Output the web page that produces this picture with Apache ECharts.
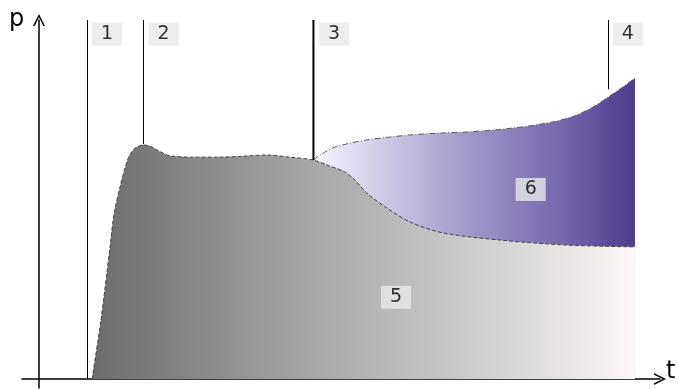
<!DOCTYPE html>
<html>
<head>
<meta charset="utf-8">
<script src="https://cdn.jsdelivr.net/npm/echarts@6/dist/echarts.min.js"></script>
<style>
  html, body { margin: 0; padding: 0; background: #fff; }
  #chart { width: 678px; height: 390px; }
</style>
</head>
<body>
<div id="chart"></div>
<script>
// phase boundary curve (region 5, top edge)
var baseT = [8.9, 10.4, 11.9, 12.6, 13.6, 14.4, 15.1, 16.1, 16.9, 17.4, 18.6, 19.8, 21.5, 22.3, 25.3, 29.9, 34.6, 38.3, 42.1, 46.0, 48.8, 51.3, 53.0, 55.0, 58.4, 62.3, 67.8, 77.4, 88.6, 100];
var baseP = [0, 16.4, 36.5, 46.0, 53.5, 58.5, 62.0, 64.3, 65.0, 65.2, 64.9, 63.8, 62.4, 62.1, 61.8, 61.8, 62.1, 62.4, 61.8, 61.0, 59.3, 57.7, 55.4, 51.8, 47.6, 43.7, 40.7, 38.7, 37.3, 36.8];
// upper curve (region 6, top edge)
var upperT = [46.0, 47.5, 49.3, 52.2, 55.0, 58.9, 62.3, 67.3, 71.8, 79.5, 86.2, 89.9, 93.0, 95.3, 97.5, 100];
var upperP = [61.0, 62.7, 64.4, 65.7, 66.6, 67.4, 68.0, 68.5, 68.8, 69.9, 71.6, 73.3, 75.8, 78.3, 80.8, 83.8];
// vertical markers 1..4
var markT = [8.14, 17.53, 46.05, 95.56];
var markP = [0, 65.4, 61.0, 80.7];
var markW = [1, 1, 2, 1];
// boxed labels
var boxText = ['1', '2', '3', '4', '5', '6'];
var boxT = [11.4, 20.9, 49.5, 98.8, 59.9, 82.5];
var boxP = [96.1, 96.1, 96.1, 96.1, 22.8, 52.8];

var zip = function (a, b) {
    var out = [];
    for (var i = 0; i < a.length; i++) out.push([a[i], b[i]]);
    return out;
};

var series = [];
// region 6 first, region 5 drawn above it hides the lower part
series.push({
    type: 'line',
    data: zip(upperT, upperP),
    smooth: 0.3,
    symbol: 'none',
    z: 2,
    lineStyle: { color: '#5a5a62', width: 1, type: [6, 2, 1, 2] },
    areaStyle: {
        opacity: 1,
        color: new echarts.graphic.LinearGradient(0, 0, 1, 0, [
            { offset: 0, color: '#f7f6fc' },
            { offset: 0.2, color: '#d2cce8' },
            { offset: 0.5, color: '#9f95c7' },
            { offset: 0.78, color: '#7565ab' },
            { offset: 1, color: '#4e3b8e' }
        ])
    }
});
series.push({
    type: 'line',
    data: zip(baseT, baseP),
    smooth: 0.3,
    symbol: 'none',
    z: 3,
    lineStyle: { color: '#444', width: 1, type: [4, 2] },
    areaStyle: {
        opacity: 1,
        color: new echarts.graphic.LinearGradient(0, 0, 1, 0, [
            { offset: 0, color: '#6c6c6c' },
            { offset: 0.4, color: '#a6a6a6' },
            { offset: 0.72, color: '#d0cece' },
            { offset: 1, color: '#fdf7f7' }
        ])
    }
});
for (var i = 0; i < markT.length; i++) {
    series.push({
        type: 'line',
        data: [[markT[i], 100], [markT[i], markP[i]]],
        symbol: 'none',
        z: 4,
        silent: true,
        lineStyle: { color: '#000', width: markW[i] }
    });
}
var boxData = [];
for (var j = 0; j < boxText.length; j++) {
    boxData.push({ value: [boxT[j], boxP[j]], name: boxText[j] });
}
series.push({
    type: 'scatter',
    data: boxData,
    symbolSize: 0,
    z: 5,
    label: {
        show: true,
        position: 'inside',
        formatter: '{b}',
        fontFamily: 'DejaVu Sans',
        fontSize: 19,
        color: '#000',
        backgroundColor: '#e6e8eb',
        padding: [1, 9, 0, 9],
        lineHeight: 22
    }
});

var arrowPath = 'path://M0,12 L6,0 L12,12 L10.3,12 L6,3.2 L1.7,12 Z';

var option = {
    animation: false,
    grid: { left: 22, right: 18, top: 20, bottom: 2 },
    xAxis: {
        type: 'value',
        min: -2.85,
        max: 104.2,
        axisLine: {
            show: true,
            onZero: true,
            symbol: ['none', arrowPath],
            symbolSize: [12, 16],
            lineStyle: { color: '#000', width: 1.5 }
        },
        axisTick: { show: false },
        axisLabel: { show: false },
        splitLine: { show: false }
    },
    yAxis: {
        type: 'value',
        min: -2.5,
        max: 100,
        axisLine: {
            show: true,
            onZero: true,
            symbol: ['none', arrowPath],
            symbolSize: [12, 16],
            lineStyle: { color: '#000', width: 1.5 }
        },
        axisTick: { show: false },
        axisLabel: { show: false },
        splitLine: { show: false }
    },
    graphic: [
        { type: 'text', left: 9, top: 8, style: { text: 'p', font: '24px "DejaVu Sans"', fill: '#000' } },
        { type: 'text', left: 666, top: 360, style: { text: 't', font: '24px "DejaVu Sans"', fill: '#000' } }
    ],
    series: series
};

var chart = echarts.init(document.getElementById('chart'));
chart.setOption(option);
</script>
</body>
</html>
